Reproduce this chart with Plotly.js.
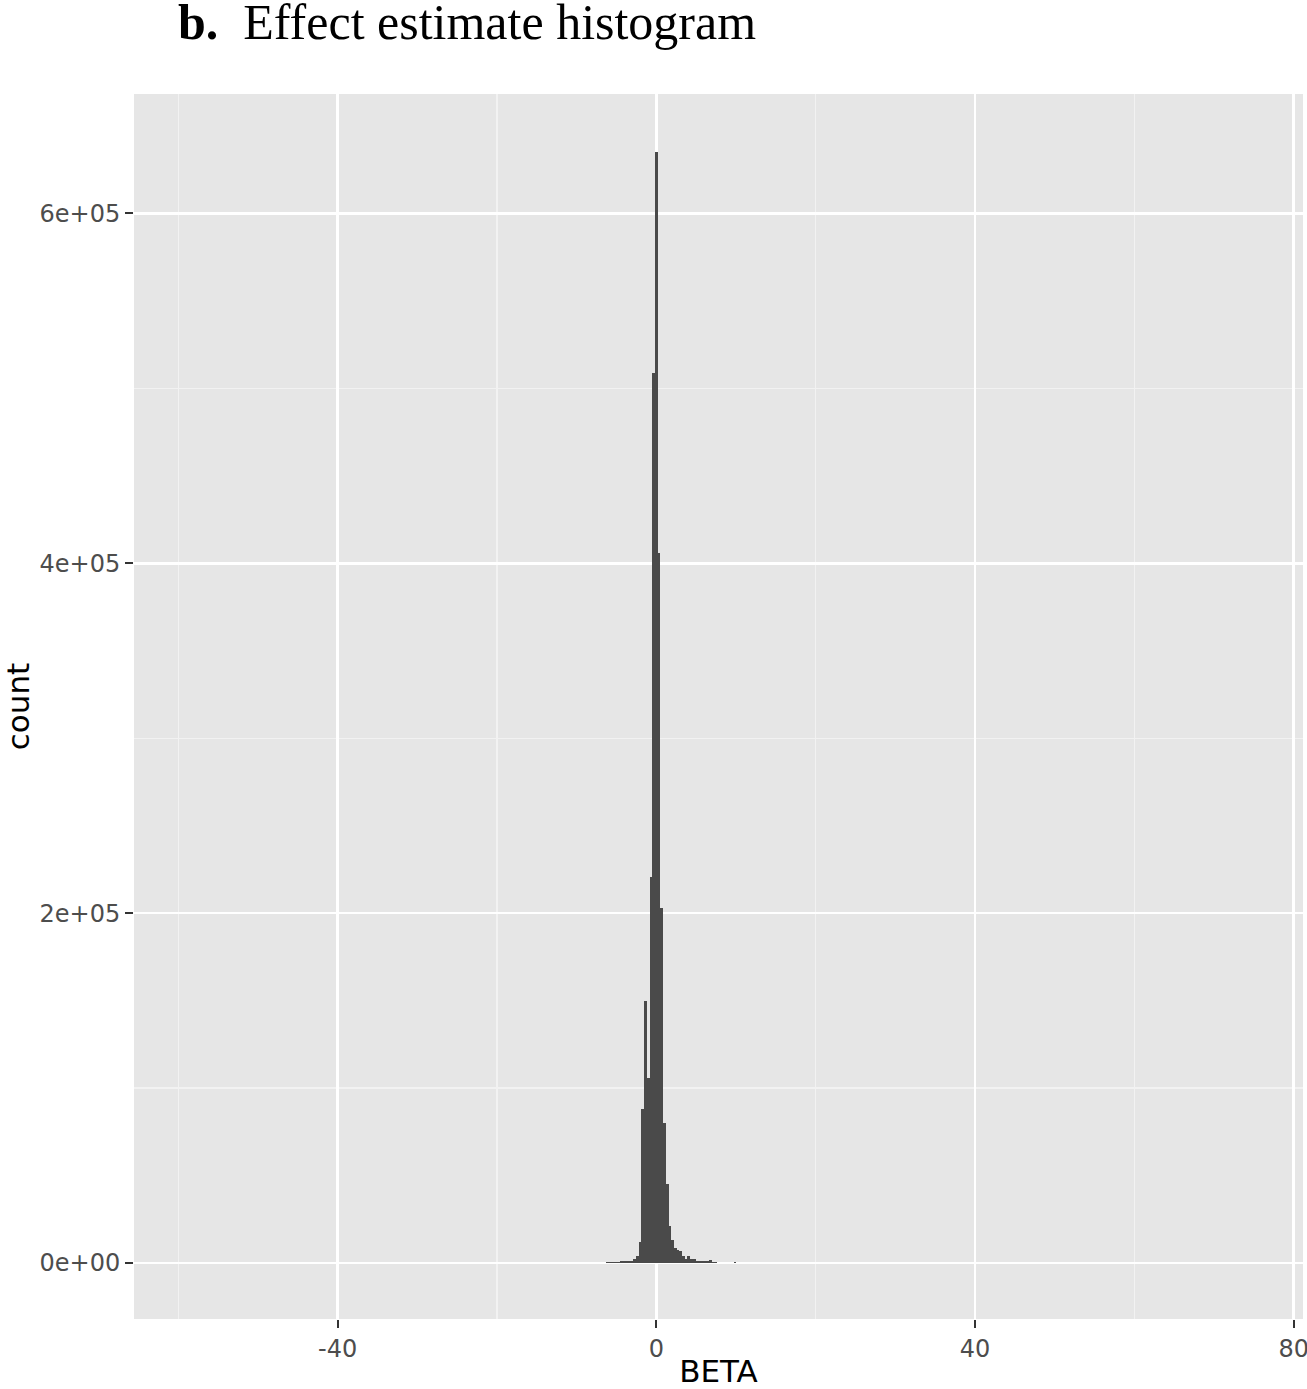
<!DOCTYPE html>
<html>
<head>
<meta charset="utf-8">
<script src="https://cdn.plot.ly/plotly-3.0.1.min.js"></script>
<style>
  html, body { margin: 0; padding: 0; background: #ffffff; }
  #chart { width: 1307px; height: 1389px; }
</style>
</head>
<body>
<div id="chart"></div>
<script>
// Histogram bins of BETA (bin centres) and counts
const binCenters = [
  -6.12, -5.78, -5.44, -5.10, -4.76, -4.42, -4.08, -3.74, -3.40, -3.06,
  -2.72, -2.38, -2.04, -1.70, -1.36, -1.02, -0.68, -0.34, 0.00, 0.34,
  0.68, 1.02, 1.36, 1.70, 2.04, 2.38, 2.72, 3.06, 3.40, 3.74,
  4.08, 4.42, 4.76, 5.10, 5.44, 5.78, 6.12, 6.46, 6.80, 7.14,
  7.48, 9.86
];
const counts = [
  600, 700, 700, 800, 800, 900, 900, 1000, 1100, 1300,
  2300, 4000, 12000, 87900, 149600, 105600, 220700, 508700, 635100, 405800,
  203200, 79900, 45200, 21400, 13400, 8800, 7300, 7000, 4000, 2500,
  3800, 2300, 2300, 1200, 1100, 1000, 1000, 900, 1900, 800,
  800, 700
];
const binWidth = 0.34;

const xTickVals = [-40, 0, 40, 80];
const xTickText = ["-40", "0", "40", "80"];
const yTickVals = [0, 200000, 400000, 600000];
const yTickText = ["0e+00", "2e+05", "4e+05", "6e+05"];

const trace = {
  type: 'bar',
  x: binCenters,
  y: counts,
  width: binWidth,
  marker: { color: '#4a4a4a', line: { width: 0 } },
  hoverinfo: 'x+y'
};

const tickFont = { family: 'DejaVu Sans, sans-serif', size: 24, color: '#4d4d4d' };

const layout = {
  width: 1307,
  height: 1389,
  paper_bgcolor: '#ffffff',
  plot_bgcolor: '#e6e6e6',
  margin: { l: 134, r: 4, t: 94, b: 70 },
  showlegend: false,
  bargap: 0,
  title: {
    text: '<b>b.</b>&nbsp;&nbsp;Effect estimate histogram',
    font: { family: 'Liberation Serif, Times New Roman, serif', size: 50, color: '#000000' },
    xref: 'container', yref: 'container',
    x: 178 / 1307, xanchor: 'left',
    y: 1 - 21 / 1389, yanchor: 'middle'
  },
  xaxis: {
    range: [-65.56, 81.17],
    tickmode: 'array',
    tickvals: xTickVals,
    ticktext: xTickText,
    ticks: 'outside',
    ticklen: 8,
    tickwidth: 2,
    tickcolor: '#333333',
    tickfont: tickFont,
    ticklabeloverflow: 'allow',
    showgrid: true,
    gridcolor: '#ffffff',
    gridwidth: 2.4,
    minor: { dtick: 20, tick0: 0, showgrid: true, gridcolor: '#f2f2f2', gridwidth: 1.2, ticks: '' },
    zeroline: false,
    showline: false,
    automargin: false,
    title: {
      text: 'BETA',
      font: { family: 'DejaVu Sans, sans-serif', size: 31, color: '#000000' },
      standoff: 18
    }
  },
  yaxis: {
    range: [-32000, 668300],
    tickmode: 'array',
    tickvals: yTickVals,
    ticktext: yTickText,
    ticks: 'outside',
    ticklen: 8,
    tickwidth: 2,
    tickcolor: '#333333',
    tickfont: tickFont,
    showgrid: true,
    gridcolor: '#ffffff',
    gridwidth: 2.4,
    minor: { dtick: 100000, tick0: 0, showgrid: true, gridcolor: '#f2f2f2', gridwidth: 1.2, ticks: '' },
    zeroline: false,
    showline: false,
    automargin: false,
    title: {
      text: 'count',
      font: { family: 'DejaVu Sans, sans-serif', size: 31, color: '#000000' },
      standoff: 8
    }
  }
};

Plotly.newPlot('chart', [trace], layout, { displayModeBar: false, staticPlot: true });
</script>
</body>
</html>
